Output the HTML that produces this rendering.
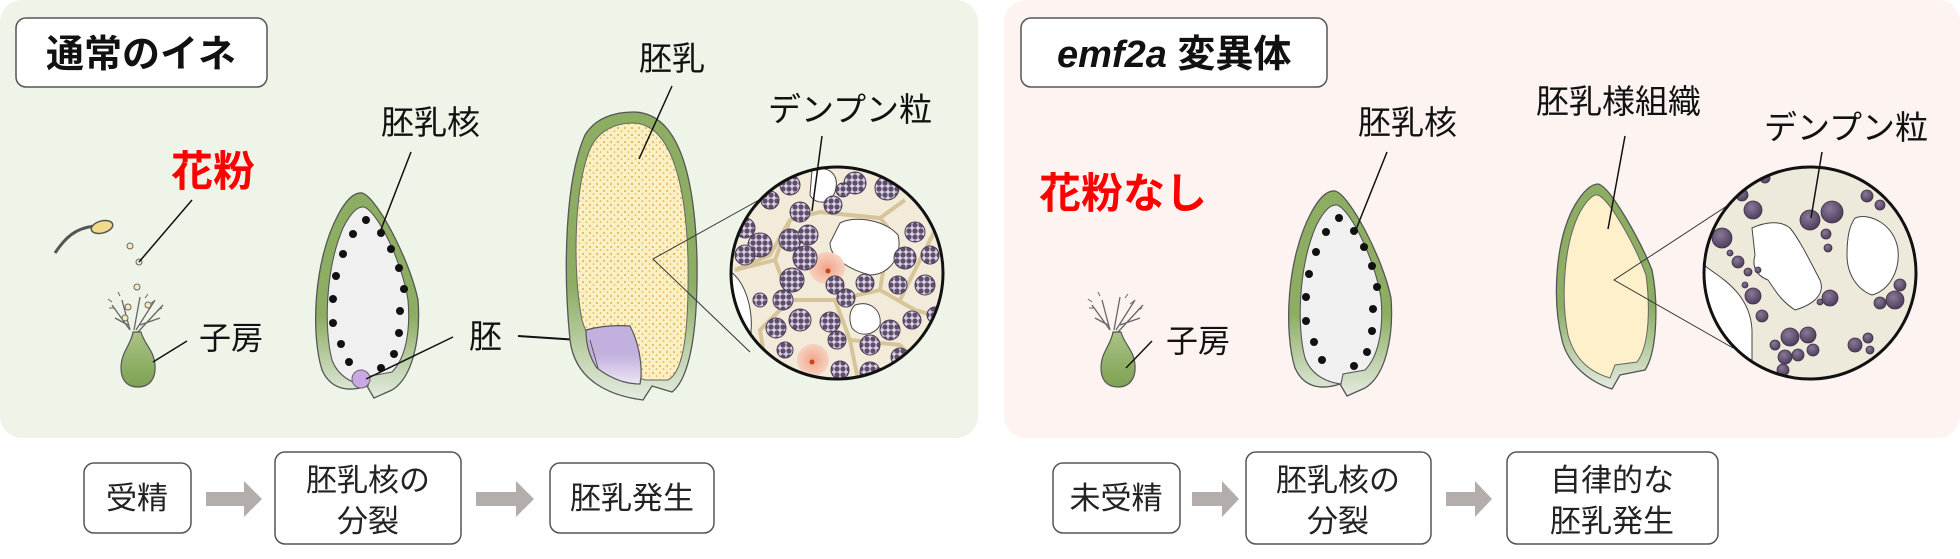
<!DOCTYPE html>
<html><head><meta charset="utf-8"><style>
html,body{margin:0;padding:0;background:#fff;}
svg{display:block;}
text{font-family:"Liberation Sans","Noto Sans CJK JP",sans-serif;}
</style></head><body>
<svg width="1960" height="559" viewBox="0 0 1960 559" xmlns="http://www.w3.org/2000/svg">
<defs>
<pattern id="clu" width="6" height="6" patternUnits="userSpaceOnUse"><rect width="6" height="6" fill="#d8d0dc"/><circle cx="3" cy="3" r="2.6" fill="#5e4d6e"/></pattern>
<pattern id="dots" width="7" height="7" patternUnits="userSpaceOnUse"><rect width="7" height="7" fill="#fbf0c4"/><circle cx="2" cy="2" r="0.9" fill="#d99a2a"/><circle cx="5.5" cy="5" r="0.8" fill="#e0a83a"/></pattern>
<linearGradient id="gg" x1="0" y1="0" x2="0" y2="1"><stop offset="0.6" stop-color="#8cad62"/><stop offset="1" stop-color="#e4ebe0"/></linearGradient>
<linearGradient id="ov" x1="0" y1="0" x2="0" y2="1"><stop offset="0" stop-color="#a9c385"/><stop offset="1" stop-color="#7ea152"/></linearGradient>
<linearGradient id="emb" x1="0" y1="0" x2="0" y2="1"><stop offset="0.5" stop-color="#c2b0de"/><stop offset="1" stop-color="#ece6f4"/></linearGradient>
<radialGradient id="blob" cx="0.4" cy="0.35" r="0.7"><stop offset="0" stop-color="#8a7898"/><stop offset="1" stop-color="#4a3b57"/></radialGradient>
<radialGradient id="nuc" r="0.6"><stop offset="0" stop-color="#f2a48a"/><stop offset="1" stop-color="#f6dccc"/></radialGradient>
<clipPath id="cL"><circle cx="837" cy="273" r="106"/></clipPath>
<clipPath id="cR"><circle cx="1810" cy="273" r="106"/></clipPath>
</defs>

<rect x="0" y="0" width="978" height="438" rx="22" fill="#eef4e7"/>
<rect x="1004" y="0" width="956" height="438" rx="22" fill="#fdf4f1"/>

<rect x="16" y="18" width="251" height="69" rx="10" fill="#fff" stroke="#555" stroke-width="1.5"/>
<text x="46" y="67" font-size="38" font-weight="bold" fill="#111">通常のイネ</text>
<rect x="1021" y="18" width="306" height="69" rx="10" fill="#fff" stroke="#555" stroke-width="1.5"/>
<text x="1057" y="67" font-size="38" font-weight="bold" fill="#111"><tspan font-style="italic">emf2a</tspan> 変異体</text>

<text x="171" y="186" font-size="42" font-weight="bold" fill="#f00">花粉</text>
<text x="1039" y="208" font-size="42" font-weight="bold" fill="#f00">花粉なし</text>

<path d="M55,253 C65,238 75,228 95,226" fill="none" stroke="#555" stroke-width="3"/>
<ellipse cx="102" cy="227" rx="11" ry="6" fill="#f3d98a" stroke="#555" stroke-width="1.5" transform="rotate(-15 102 227)"/>
<circle cx="130" cy="246" r="3" fill="#f8eac0" stroke="#666"/>
<circle cx="139" cy="262" r="3" fill="#f8eac0" stroke="#666"/>
<circle cx="137" cy="287" r="3" fill="#f8eac0" stroke="#666"/>
<line x1="139" y1="262" x2="192" y2="200" stroke="#111" stroke-width="1.5"/>

<g id="ovary">
<path d="M130,330 L122,300 M130,330 L112,305 M134,330 L140,297 M136,330 L155,300 M138,332 L163,305 M128,325 L115,318 M140,325 L160,318" stroke="#666" stroke-width="1.3" fill="none"/>
<path d="M112,302 l-4,-3 M114,308 l-5,0 M150,304 l4,-3 M158,310 l4,-2 M120,296 l-2,-4 M145,298 l3,-4" stroke="#666" stroke-width="1"/>
<path d="M133,332 C131,345 121,352 121,368 C121,380 127,387 138,387 C150,387 156,378 155,365 C154,350 144,344 141,332 Z" fill="url(#ov)" stroke="#555" stroke-width="1.2"/>
</g>
<circle cx="128" cy="307" r="3" fill="#f8eac0" stroke="#666"/>
<circle cx="148" cy="305" r="3" fill="#f8eac0" stroke="#666"/>
<circle cx="125" cy="318" r="3" fill="#f8eac0" stroke="#666"/>
<line x1="187" y1="341" x2="153" y2="362" stroke="#111" stroke-width="1.5"/>
<text x="199" y="349" font-size="32" fill="#111">子房</text>
<use href="#ovary" transform="translate(980,0)"/>
<line x1="1152" y1="341" x2="1126" y2="368" stroke="#111" stroke-width="1.5"/>
<text x="1166" y="352" font-size="32" fill="#111">子房</text>

<g id="g1">
<path d="M362,193 C376,196 410,260 418,300 C421,340 412,378 392,390 L374,398 L367,386 C346,393 330,388 322,370 C311,335 313,262 338,215 C346,200 354,192 362,193 Z" fill="url(#gg)" stroke="#555" stroke-width="1.3"/>
<path d="M364,207 C378,212 402,262 408,300 C411,335 404,360 392,372 L370,376 L368,386 C352,384 338,376 332,360 C324,330 325,270 343,228 C350,214 357,206 364,207 Z" fill="#f0f0f0" stroke="#555" stroke-width="1.1"/>
<g fill="#111">
<circle cx="366" cy="220" r="4"/><circle cx="353" cy="234" r="4"/><circle cx="381" cy="233" r="4"/><circle cx="343" cy="254" r="4"/><circle cx="391" cy="249" r="4"/><circle cx="336" cy="276" r="4"/><circle cx="399" cy="268" r="4"/><circle cx="333" cy="299" r="4"/><circle cx="404" cy="289" r="4"/><circle cx="333" cy="323" r="4"/><circle cx="400" cy="311" r="4"/><circle cx="341" cy="344" r="4"/><circle cx="399" cy="333" r="4"/><circle cx="349" cy="362" r="4"/><circle cx="394" cy="354" r="4"/><circle cx="381" cy="368" r="4"/>
</g>
</g>
<circle cx="361" cy="379" r="9" fill="#c9a8e4" stroke="#666"/>
<use href="#g1" transform="translate(973,-2)"/>
<line x1="411" y1="152" x2="380" y2="232" stroke="#111" stroke-width="1.5"/>
<text x="381" y="134" font-size="33" fill="#111">胚乳核</text>
<line x1="1387" y1="152" x2="1355" y2="232" stroke="#111" stroke-width="1.5"/>
<text x="1358" y="134" font-size="33" fill="#111">胚乳核</text>

<line x1="453" y1="337" x2="366" y2="379" stroke="#111" stroke-width="1.5"/>
<text x="469" y="348" font-size="33" fill="#111">胚</text>
<line x1="518" y1="336" x2="594" y2="341" stroke="#111" stroke-width="2"/>

<path d="M633,112 C680,112 695,180 697,260 C698,330 690,378 672,392 L652,386 L643,400 C612,396 575,382 570,340 C563,270 565,180 585,135 C595,118 615,112 633,112 Z" fill="url(#gg)" stroke="#555" stroke-width="1.3"/>
<path d="M634,123 C670,125 686,180 688,260 C689,330 684,372 668,380 L645,380 C620,372 590,350 582,320 C572,270 574,180 592,145 C602,128 618,123 634,123 Z" fill="url(#dots)" stroke="#666" stroke-width="1"/>
<path d="M586,330 C600,326 615,325 630,326 C640,345 643,370 640,384 C625,384 610,378 597,368 C590,358 586,345 586,330 Z" fill="url(#emb)" stroke="#555" stroke-width="1.2"/>
<path d="M590,340 L598,368" stroke="#555" stroke-width="1"/>
<line x1="672" y1="86" x2="639" y2="159" stroke="#111" stroke-width="1.5"/>
<text x="639" y="70" font-size="33" fill="#111">胚乳</text>

<path d="M759,200 L653,259 L750,352" fill="none" stroke="#333" stroke-width="1"/>

<g clip-path="url(#cL)">
<rect x="725" y="160" width="230" height="230" fill="#f3ebd9"/>
<path d="M735,270 L770,255 L790,220 L820,212 L880,218 L905,200 M790,220 L775,260 L790,300 L835,300 L850,340 L860,390 M775,260 L735,270 M790,300 L760,330 L770,390 M835,300 L880,290 L915,310 L950,320 M880,290 L890,230 L880,218 M900,300 L935,230 L950,220 M850,340 L900,345 L935,380" fill="none" stroke="#d6c59a" stroke-width="4"/>
<path d="M812,170 C830,165 840,175 835,192 C830,205 815,205 810,195 Z" fill="#fff" stroke="#444"/>
<path d="M840,223 C855,215 885,220 898,235 C903,255 890,275 870,275 C850,270 830,258 830,243 Z" fill="#fff" stroke="#444"/>
<path d="M728,270 C745,280 755,310 750,340 L728,345 Z" fill="#fff" stroke="#444"/>
<path d="M855,305 C870,300 882,310 880,325 C875,335 860,338 852,328 C848,318 850,310 855,305 Z" fill="#fff" stroke="#444"/>
<ellipse cx="827" cy="268" rx="18" ry="16" fill="url(#nuc)"/><circle cx="828" cy="271" r="2.5" fill="#c2461a"/>
<ellipse cx="813" cy="360" rx="16" ry="16" fill="url(#nuc)"/><circle cx="812" cy="362" r="2.5" fill="#c2461a"/>
<g fill="url(#clu)" stroke="#4a3c58" stroke-width="1">
<circle cx="790" cy="185" r="10"/><circle cx="855" cy="183" r="11"/><circle cx="887" cy="188" r="12"/><circle cx="770" cy="200" r="9"/><circle cx="800" cy="212" r="10"/><circle cx="745" cy="228" r="10"/><circle cx="760" cy="245" r="12"/><circle cx="790" cy="240" r="11"/><circle cx="808" cy="235" r="10"/><circle cx="805" cy="258" r="12"/><circle cx="833" cy="205" r="9"/><circle cx="843" cy="190" r="7"/>
<circle cx="915" cy="232" r="10"/><circle cx="930" cy="255" r="9"/><circle cx="905" cy="258" r="11"/><circle cx="925" cy="285" r="10"/><circle cx="898" cy="285" r="9"/><circle cx="745" cy="255" r="10"/><circle cx="792" cy="280" r="12"/><circle cx="783" cy="300" r="10"/><circle cx="800" cy="320" r="11"/><circle cx="835" cy="285" r="9"/><circle cx="846" cy="298" r="9"/><circle cx="865" cy="283" r="9"/>
<circle cx="776" cy="328" r="10"/><circle cx="830" cy="322" r="10"/><circle cx="837" cy="340" r="9"/><circle cx="870" cy="345" r="10"/><circle cx="890" cy="330" r="10"/><circle cx="912" cy="320" r="9"/><circle cx="935" cy="315" r="8"/><circle cx="900" cy="357" r="9"/><circle cx="760" cy="360" r="10"/><circle cx="785" cy="350" r="8"/><circle cx="840" cy="370" r="9"/><circle cx="870" cy="372" r="10"/><circle cx="760" cy="300" r="7"/>
</g>
</g>
<circle cx="837" cy="273" r="106" fill="none" stroke="#111" stroke-width="3"/>
<line x1="822" y1="136" x2="812" y2="211" stroke="#111" stroke-width="1.5"/>
<text x="768" y="121" font-size="33" fill="#111">デンプン粒</text>

<path d="M1598,184 C1610,186 1640,240 1652,270 C1658,300 1658,350 1645,370 L1620,375 L1612,389 C1590,382 1568,365 1562,340 C1552,300 1555,240 1575,205 C1584,190 1592,184 1598,184 Z" fill="url(#gg)" stroke="#555" stroke-width="1.3"/>
<path d="M1598,195 C1610,200 1635,245 1646,275 C1650,305 1650,345 1637,362 L1615,365 L1610,378 C1590,372 1575,360 1568,335 C1561,300 1563,245 1580,212 C1587,200 1593,194 1598,195 Z" fill="#fff0cc" stroke="#666" stroke-width="1"/>
<line x1="1625" y1="136" x2="1608" y2="229" stroke="#111" stroke-width="1.5"/>
<text x="1536" y="113" font-size="33" fill="#111">胚乳様組織</text>
<path d="M1736,200 L1614,280 L1733,348" fill="none" stroke="#333" stroke-width="1"/>

<g clip-path="url(#cR)">
<rect x="1700" y="160" width="230" height="230" fill="#ede9db"/>
<path d="M1752,228 C1765,222 1780,220 1790,228 C1800,240 1812,265 1820,280 C1826,295 1812,305 1795,310 C1780,300 1775,290 1768,280 C1755,275 1752,265 1755,255 Z" fill="#fff" stroke="#444"/>
<path d="M1855,218 C1870,212 1895,225 1898,250 C1900,270 1890,290 1872,295 C1858,290 1847,275 1847,255 C1847,235 1850,225 1855,218 Z" fill="#fff" stroke="#444"/>
<path d="M1704,265 C1715,275 1750,290 1752,330 L1752,385 L1704,385 Z" fill="#fff" stroke="#444"/>
<g fill="url(#blob)" stroke="#3d3048" stroke-width="0.8">
<circle cx="1742" cy="195" r="6"/><circle cx="1765" cy="178" r="5"/><circle cx="1753" cy="210" r="9"/><circle cx="1722" cy="238" r="10"/><circle cx="1738" cy="262" r="6"/><circle cx="1730" cy="253" r="3"/>
<circle cx="1810" cy="220" r="10"/><circle cx="1832" cy="212" r="11"/><circle cx="1826" cy="234" r="5"/><circle cx="1828" cy="248" r="4"/><circle cx="1867" cy="196" r="6"/><circle cx="1880" cy="205" r="5"/>
<circle cx="1748" cy="272" r="4"/><circle cx="1758" cy="270" r="3"/><circle cx="1745" cy="285" r="3"/><circle cx="1753" cy="296" r="8"/><circle cx="1762" cy="316" r="6"/>
<circle cx="1830" cy="298" r="8"/><circle cx="1820" cy="302" r="3"/><circle cx="1895" cy="300" r="9"/><circle cx="1900" cy="285" r="6"/><circle cx="1880" cy="303" r="6"/>
<circle cx="1790" cy="337" r="9"/><circle cx="1808" cy="335" r="8"/><circle cx="1813" cy="350" r="6"/><circle cx="1798" cy="355" r="6"/><circle cx="1785" cy="357" r="7"/><circle cx="1775" cy="345" r="5"/>
<circle cx="1855" cy="345" r="7"/><circle cx="1868" cy="338" r="5"/><circle cx="1870" cy="350" r="4"/><circle cx="1783" cy="370" r="6"/>
</g>
</g>
<circle cx="1810" cy="273" r="106" fill="none" stroke="#111" stroke-width="3"/>
<line x1="1822" y1="152" x2="1811" y2="218" stroke="#111" stroke-width="1.5"/>
<text x="1764" y="139" font-size="33" fill="#111">デンプン粒</text>

<g fill="#fff" stroke="#555" stroke-width="1.5">
<rect x="84" y="463" width="107" height="70" rx="10"/>
<rect x="275" y="452" width="186" height="92" rx="10"/>
<rect x="550" y="463" width="164" height="70" rx="10"/>
<rect x="1053" y="463" width="127" height="70" rx="10"/>
<rect x="1246" y="452" width="185" height="92" rx="10"/>
<rect x="1507" y="452" width="211" height="92" rx="10"/>
</g>
<g fill="#b3aeac">
<path d="M206,492 L244,492 L244,481 L262,499 L244,517 L244,506 L206,506 Z"/>
<path d="M476,492 L516,492 L516,481 L534,499 L516,517 L516,506 L476,506 Z"/>
<path d="M1192,492 L1222,492 L1222,481 L1239,499 L1222,517 L1222,506 L1192,506 Z"/>
<path d="M1446,492 L1475,492 L1475,481 L1492,499 L1475,517 L1475,506 L1446,506 Z"/>
</g>
<g font-size="31" fill="#222" text-anchor="middle">
<text x="137" y="509">受精</text>
<text x="368" y="491">胚乳核の</text>
<text x="368" y="532">分裂</text>
<text x="632" y="509">胚乳発生</text>
<text x="1116" y="509">未受精</text>
<text x="1338" y="491">胚乳核の</text>
<text x="1338" y="532">分裂</text>
<text x="1612" y="491">自律的な</text>
<text x="1612" y="532">胚乳発生</text>
</g>
</svg>
</body></html>
